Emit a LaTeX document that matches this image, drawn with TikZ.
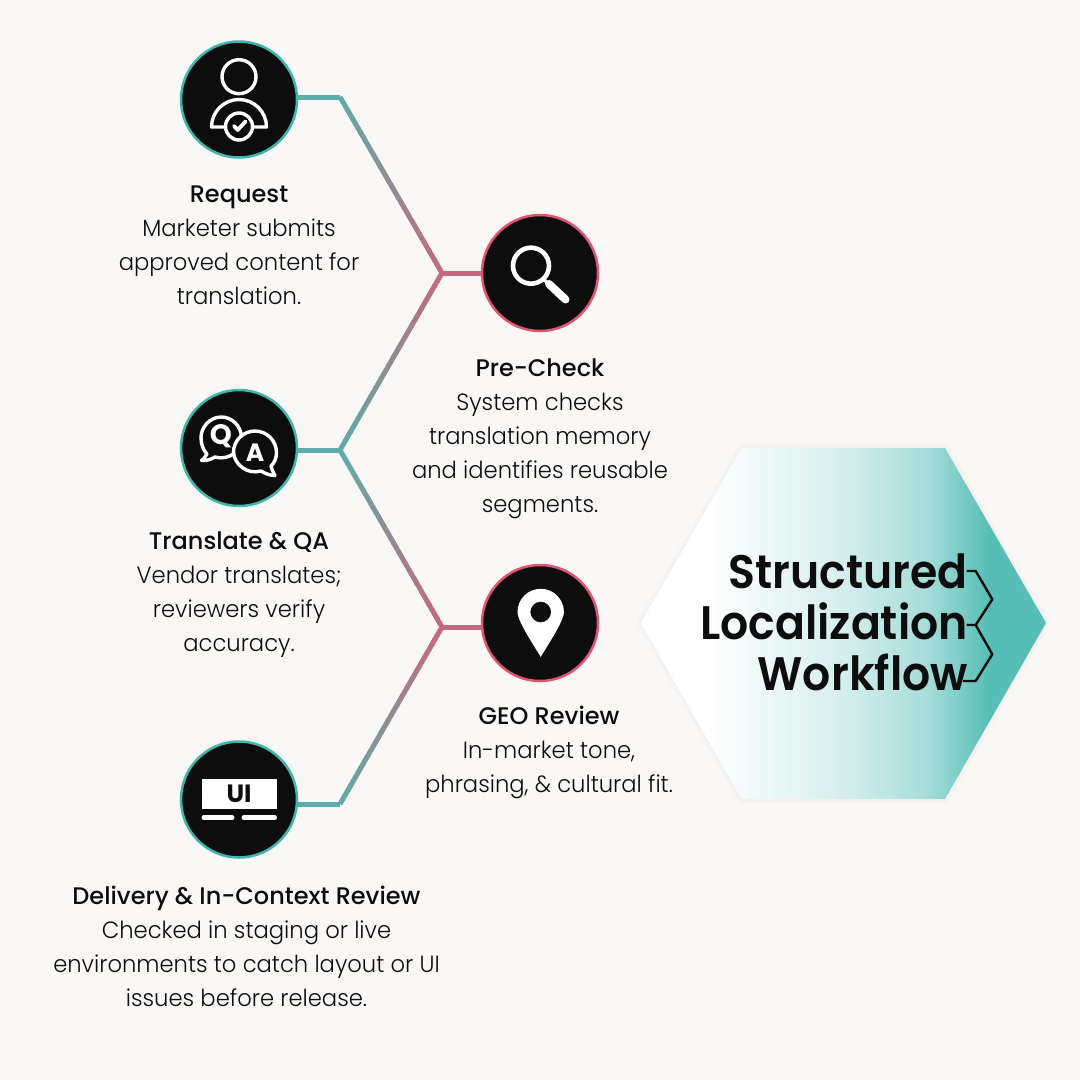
\documentclass[tikz,border=0pt]{standalone}
\usepackage{fontspec}
\usetikzlibrary{calc}
\setmainfont{Poppins}
\newfontfamily\bodyf[UprightFont=* Light,FakeStretch=.965]{Poppins}
\newfontfamily\headf[UprightFont=* Medium,FakeStretch=1.0]{Poppins}
\newfontfamily\titlef[UprightFont=* SemiBold,FakeStretch=.94]{Poppins}
\newfontfamily\iconf[UprightFont=* Bold]{Poppins}
\definecolor{bgc}{HTML}{F9F8F6}
\definecolor{ink}{HTML}{0D0D0D}
\definecolor{tealc}{HTML}{3FB5AC}
\definecolor{pinkc}{HTML}{E0556F}
\definecolor{linkt}{HTML}{5FADA9}
\definecolor{linkp}{HTML}{C6687F}
\pgfdeclarehorizontalshading{hexshade}{100bp}{
 color(0bp)=(white);
 color(33bp)=(white);
 color(41bp)=(white!90!tealc);
 color(50bp)=(white!78!tealc);
 color(60bp)=(white!55!tealc);
 color(68bp)=(tealc!88!white);
 color(100bp)=(tealc!88!white)}
\tikzset{
 x=1pt,y=-1pt,
 disc/.style={circle,minimum size=116pt,inner sep=0pt,fill=ink,line width=2.5pt},
 tealdisc/.style={disc,draw=tealc},
 pinkdisc/.style={disc,draw=pinkc},
 icon/.style={draw=white,line width=3.4pt,line join=round,line cap=round},
 caption/.style={anchor=north,align=center,inner sep=0pt,text=ink,font=\fontsize{23.5}{34}\selectfont\bodyf},
 link/.style={line width=5pt},
}
\newcommand{\capt}[2]{{\rule{0pt}{20pt}\headf\fontsize{24}{34}\selectfont #1}\\#2}
\newcommand{\gradlink}[4]{%
 \draw[link,linkt] (#1) -- (#2);
 \foreach \i [evaluate=\i as \a using {(\i-1)/40}, evaluate=\i as \b using {(\i+.15)/40}, evaluate=\i as \p using {100*(\i-.5)/40}] in {1,...,40}{
  \draw[link,color=linkp!\p!linkt] ($(#2)!\a!(#3)$) -- ($(#2)!\b!(#3)$);
 }
 \draw[link,linkp] (#3) -- (#4);
}
\begin{document}
\begin{tikzpicture}
\useasboundingbox (0,0) rectangle (1080,1080);
\fill[bgc] (0,0) rectangle (1080,1080);

% junctions
\coordinate (j1) at (340,97);
\coordinate (j2) at (442,273);
\coordinate (j3) at (340,450);
\coordinate (j4) at (442,627);
\coordinate (j5) at (340,804);
\coordinate (s1) at (298,97);
\coordinate (s2) at (482,273);
\coordinate (s3) at (298,450);
\coordinate (s4) at (482,627);
\coordinate (s5) at (298,804);

\gradlink{s1}{j1}{j2}{s2}
\gradlink{s3}{j3}{j2}{s2}
\gradlink{s3}{j3}{j4}{s4}
\gradlink{s5}{j5}{j4}{s4}

% discs
\node[tealdisc] (request) at (239,99.5) {};
\node[pinkdisc] (precheck) at (540,273) {};
\node[tealdisc] (translate) at (239,448) {};
\node[pinkdisc] (geo) at (540,623) {};
\node[tealdisc] (delivery) at (239,799.5) {};

% person icon
\draw[icon] (239,76.7) circle (17);
\draw[icon] (226,127) -- (211.5,127) arc[start angle=180,end angle=360,radius=27.5] -- (252,127);
\draw[icon,fill=ink] (239,126.5) circle (13.5);
\draw[icon,line width=3.8pt] (234,126) -- (237.7,130) -- (245.5,121.5);

% magnifier
\draw[draw=white,line width=4.6pt] (531,265.7) circle (18);
\draw[draw=white,line width=3.5pt] (543,278.5) -- (549,284.5);
\draw[draw=white,line width=8pt,line cap=round] (549,284) -- (565.5,299.5);

% pin
\fill[white,even odd rule] (540.7,657) .. controls (537,650) and (517.5,622) .. (517.5,612) arc[start angle=180,end angle=360,radius=23.2] .. controls (563.9,622) and (544.4,650) .. (540.7,657) -- cycle
 (540.7,612) circle (10.4);

% Q&A
\draw[icon,fill=ink] (207,454) .. controls (204,458) and (203,460) .. (201.5,460.5) .. controls (206,461) and (211,459.5) .. (215,457) .. controls (230,461) and (242,450) .. (241.5,437) .. controls (241,425) and (231,417) .. (221.5,417) .. controls (209,417) and (201,428) .. (201,437.5) .. controls (201,444) and (203,450) .. (207,454) -- cycle;
\draw[icon,fill=ink] (271,466) .. controls (272,470) and (273.5,473) .. (275,475.5) .. controls (270,475.5) and (265,473.5) .. (261,471) .. controls (247,475) and (234,464) .. (233.5,452) .. controls (233.5,441) and (243,431) .. (255,431) .. controls (267,431) and (276.5,441) .. (276.5,452.5) .. controls (276.5,458) and (274.5,463) .. (271,466) -- cycle;
\node[font=\fontsize{28}{28}\selectfont\iconf,text=white,inner sep=0pt] (qmark) at (221,436.5) {Q};
\node[font=\fontsize{25}{25}\selectfont\iconf,text=white,inner sep=0pt] (amark) at (255,453) {A};

% UI
\fill[white] (201.7,779) rectangle (276.7,809);
\node[font=\fontsize{25}{25}\selectfont\iconf,text=ink,inner sep=0pt] (uimark) at (239,794) {UI};
\draw[draw=white,line width=5pt,line cap=round] (204,817.7) -- (232,817.7);
\draw[draw=white,line width=5pt,line cap=round] (244,817.7) -- (274.5,817.7);

% hexagon
\path[draw=black,line width=9pt,draw opacity=.012,line join=round] (641,623) -- (741.7,448) -- (945,448) -- (1046,623) -- (945,799) -- (741.7,799) -- cycle;
\path[draw=black,line width=5pt,draw opacity=.012,line join=round] (641,623) -- (741.7,448) -- (945,448) -- (1046,623) -- (945,799) -- (741.7,799) -- cycle;
\shade[shading=hexshade] (641,623) -- (741.7,448) -- (945,448) -- (1046,623) -- (945,799) -- (741.7,799) -- cycle;

% bracket
\draw[ink,line width=2.4pt,line join=round] (966.7,571) -- (975.7,571) -- (992.3,599.3) -- (975.7,625) -- (966.7,625);
\draw[ink,line width=2.4pt,line join=round] (975.7,625) -- (992.3,654.3) -- (975.7,681) -- (963,681);

% title
\node[anchor=north east,align=right,inner sep=0pt,text=ink,font=\fontsize{47}{51}\selectfont\titlef] (title) at (968,548) {\rule{0pt}{40pt}Structured\\Localization\\Workflow};

% captions
\node[caption] (c1) at (239,182) {\capt{Request}{Marketer submits\\approved content for\\translation.}};
\node[caption] (c2) at (540,356) {\capt{Pre-Check}{System checks\\translation memory\\and identifies reusable\\segments.}};
\node[caption] (c3) at (239,529) {\capt{Translate \& QA}{Vendor translates;\\reviewers verify\\accuracy.}};
\node[caption] (c4) at (549,704) {\capt{GEO Review}{In-market tone,\\phrasing, \& cultural fit.}};
\node[caption] (c5) at (246.5,884) {\capt{Delivery \& In-Context Review}{Checked in staging or live\\environments to catch layout or UI\\issues before release.}};
\end{tikzpicture}
\end{document}
